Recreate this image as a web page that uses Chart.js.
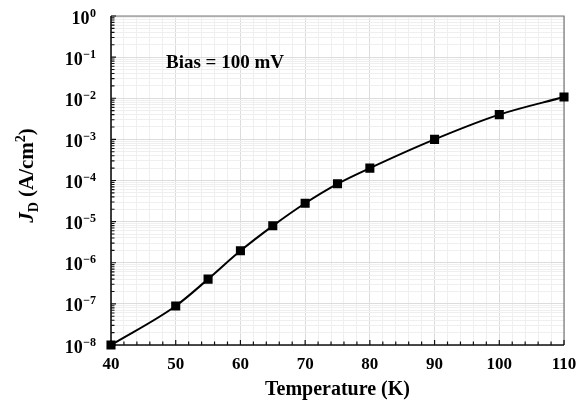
<!DOCTYPE html>
<html>
<head>
<meta charset="utf-8">
<script src="https://cdn.jsdelivr.net/npm/chart.js@4"></script>
<style>
    html, body { margin: 0; padding: 0; background: #fff; }
    #wrap { width: 581px; height: 401px; }
</style>
</head>
<body>
<div id="wrap"><canvas id="jdChart"></canvas></div>
<script>
// data
const temperatures = [40, 50, 55, 60, 65, 70, 75, 80, 90, 100, 110];
const currentDensity = [1e-8, 8.9e-8, 4.0e-7, 1.95e-6, 7.9e-6, 2.8e-5, 8.3e-5, 2.0e-4, 1.0e-3, 4.0e-3, 1.07e-2];
const xLabels = [40, 50, 60, 70, 80, 90, 100, 110];
const yExponents = [-8, -7, -6, -5, -4, -3, -2, -1, 0];

const serif = "'Liberation Serif', 'Times New Roman', serif";

// log ticks: 1..9 x 10^e for each decade
const yTickValues = [];
yExponents.forEach(function (e) {
    for (let m = 1; m <= 9; m++) {
        if (e === 0 && m > 1) break;
        yTickValues.push(Number((m * Math.pow(10, e)).toPrecision(3)));
    }
});

function isDecade(v) {
    const l = Math.log10(v);
    return Math.abs(l - Math.round(l)) < 1e-6;
}

const framePlugin = {
    id: 'frame',
    beforeDatasetsDraw(chart) {
        const { ctx, chartArea: a, scales } = chart;
        const x = scales.x, y = scales.y;
        ctx.save();
        // top and right border (grey)
        ctx.strokeStyle = '#7a7a7a';
        ctx.lineWidth = 1.2;
        ctx.beginPath();
        ctx.moveTo(a.left, a.top); ctx.lineTo(a.right, a.top); ctx.lineTo(a.right, a.bottom);
        ctx.stroke();
        // left and bottom axis (black)
        ctx.strokeStyle = '#111';
        ctx.lineWidth = 1.6;
        ctx.beginPath();
        ctx.moveTo(a.left, a.top); ctx.lineTo(a.left, a.bottom); ctx.lineTo(a.right, a.bottom);
        ctx.stroke();
        // inner ticks
        ctx.lineWidth = 1.2;
        ctx.beginPath();
        for (let t = 40; t <= 110; t += 2) {
            const px = x.getPixelForValue(t);
            const len = t % 10 === 0 ? 5 : 3.5;
            ctx.moveTo(px, a.bottom); ctx.lineTo(px, a.bottom - len);
        }
        yTickValues.forEach(function (v) {
            const py = y.getPixelForValue(v);
            const len = isDecade(v) ? 5 : 3.5;
            ctx.moveTo(a.left, py); ctx.lineTo(a.left + len, py);
        });
        ctx.stroke();
        ctx.restore();
    },
    afterDraw(chart) {
        const { ctx, chartArea: a, scales } = chart;
        const y = scales.y;
        ctx.save();
        ctx.fillStyle = '#000';
        // y tick labels 10^n
        yExponents.forEach(function (e) {
            const py = y.getPixelForValue(Math.pow(10, e));
            const expTxt = e === 0 ? '0' : '\u2212' + Math.abs(e);
            ctx.font = 'bold 12px ' + serif;
            const ew = ctx.measureText(expTxt).width;
            ctx.font = 'bold 18px ' + serif;
            const bw = ctx.measureText('10').width;
            const right = 96;
            ctx.textBaseline = 'alphabetic';
            ctx.textAlign = 'left';
            ctx.fillText('10', right - ew - bw - 0.5, py + 7.5);
            ctx.font = 'bold 12px ' + serif;
            ctx.fillText(expTxt, right - ew, py + 0.5);
        });

        // y title: J_D (A/cm^2)
        ctx.translate(26, (a.top + a.bottom) / 2 - 5);
        ctx.rotate(-Math.PI / 2);
        const parts = [
            { t: 'J', f: 'italic bold 21px ' + serif, dy: 0 },
            { t: 'D', f: 'bold 14px ' + serif, dy: 5 },
            { t: ' (A/cm', f: 'bold 21px ' + serif, dy: 0 },
            { t: '2', f: 'bold 14px ' + serif, dy: -8 },
            { t: ')', f: 'bold 21px ' + serif, dy: 0 }
        ];
        let total = 0;
        parts.forEach(function (p) { ctx.font = p.f; p.w = ctx.measureText(p.t).width; total += p.w; });
        let cx = -total / 2;
        parts.forEach(function (p) {
            ctx.font = p.f;
            ctx.fillText(p.t, cx, 7 + p.dy);
            cx += p.w;
        });
        ctx.restore();

        // annotation
        ctx.save();
        ctx.fillStyle = '#000';
        ctx.font = 'bold 19px ' + serif;
        ctx.textBaseline = 'alphabetic';
        ctx.fillText('Bias = 100 mV', 166, 68);
        ctx.restore();
    }
};

const ctx = document.getElementById('jdChart');

new Chart(ctx, {
    type: 'line',
    data: {
        datasets: [{
            data: temperatures.map(function (t, i) { return { x: t, y: currentDensity[i] }; }),
            borderColor: '#000',
            backgroundColor: '#000',
            borderWidth: 2,
            pointStyle: 'rect',
            pointRadius: 5,
            pointHoverRadius: 5,
            cubicInterpolationMode: 'monotone',
            clip: false
        }]
    },
    options: {
        responsive: true,
        maintainAspectRatio: false,
        animation: false,
        events: [],
        layout: { padding: { top: 16, right: 17, left: 0, bottom: 0 } },
        plugins: { legend: { display: false }, tooltip: { enabled: false } },
        scales: {
            x: {
                type: 'linear',
                min: 40,
                max: 110,
                afterFit: function (s) { s.height = 56; s.paddingLeft = 0; s.paddingRight = 0; },
                border: { display: false },
                grid: {
                    drawTicks: false,
                    color: function (c) { return c.tick && c.tick.value % 10 === 0 ? '#dcdcdc' : '#efefef'; }
                },
                ticks: {
                    stepSize: 2,
                    autoSkip: false,
                    maxRotation: 0,
                    padding: 9,
                    color: '#000',
                    font: { family: serif, size: 17, weight: 'bold' },
                    callback: function (v) { return xLabels.includes(v) ? String(v) : ''; }
                },
                title: {
                    display: true,
                    text: 'Temperature (K)',
                    color: '#000',
                    font: { family: serif, size: 20, weight: 'bold', lineHeight: 1 },
                    padding: { top: 0, bottom: 1 }
                }
            },
            y: {
                type: 'logarithmic',
                min: 1e-8,
                max: 1,
                afterBuildTicks: function (s) { s.ticks = yTickValues.map(function (v) { return { value: v }; }); },
                afterFit: function (s) { s.width = 111; },
                border: { display: false },
                grid: {
                    drawTicks: false,
                    color: function (c) { return c.tick && isDecade(c.tick.value) ? '#dcdcdc' : '#efefef'; }
                },
                ticks: { display: false }
            }
        }
    },
    plugins: [framePlugin]
});
</script>
</body>
</html>
